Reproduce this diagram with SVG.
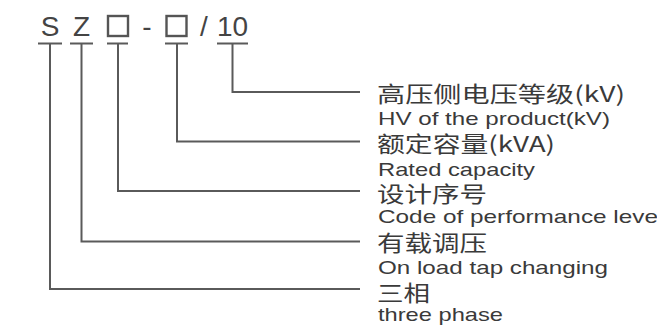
<svg xmlns="http://www.w3.org/2000/svg" width="657" height="329" viewBox="0 0 657 329">
<style>
.code{font-family:"Liberation Sans",Arial,sans-serif;font-size:28px;fill:#444;text-anchor:middle}
.box{fill:none;stroke:#555;stroke-width:2.4}
.cn{font-family:"Noto Sans CJK SC",sans-serif;font-size:21.5px;fill:#3a3a3a}
.en{font-family:"Liberation Sans",Arial,sans-serif;font-size:19px;fill:#3a3a3a}
.ln{stroke:#5a5a5a;stroke-width:2;fill:none}
</style>
<rect width="657" height="329" fill="#fff"/>
<g id="code">
<text class="code" x="50" y="36">S</text>
<text class="code" x="81.5" y="36">Z</text>
<rect class="box" x="108" y="16" width="20" height="20"/>
<text class="code" x="147" y="36">-</text>
<rect class="box" x="166.5" y="16" width="20" height="20"/>
<text class="code" x="204" y="36">/</text>
<text class="code" x="232.5" y="36">10</text>
</g>
<g id="connectors">
<path class="ln" d="M38 43.5H62M50 43.5V289H360"/>
<path class="ln" d="M70 43.5H93M81.5 43.5V241.5H360"/>
<path class="ln" d="M107 43.5H128M118 43.5V191H360"/>
<path class="ln" d="M165 43.5H188M177 43.5V141.5H360"/>
<path class="ln" d="M217 43.5H248M232.5 43.5V92H360"/>
</g>
<g id="voltage">
<text class="cn" x="377" y="101.5" textLength="248" lengthAdjust="spacingAndGlyphs">高压侧电压等级(kV)</text>
<text class="en" x="378" y="125" textLength="232" lengthAdjust="spacingAndGlyphs">HV of the product(kV)</text>
</g>
<g id="capacity">
<text class="cn" x="377" y="152" textLength="178" lengthAdjust="spacingAndGlyphs">额定容量(kVA)</text>
<text class="en" x="378" y="175.5" textLength="157" lengthAdjust="spacingAndGlyphs">Rated capacity</text>
</g>
<g id="design">
<text class="cn" x="377" y="202" textLength="110" lengthAdjust="spacingAndGlyphs">设计序号</text>
<text class="en" x="378" y="223" textLength="280" lengthAdjust="spacingAndGlyphs">Code of performance leve</text>
</g>
<g id="tap">
<text class="cn" x="377" y="250.5" textLength="110" lengthAdjust="spacingAndGlyphs">有载调压</text>
<text class="en" x="378" y="274" textLength="230" lengthAdjust="spacingAndGlyphs">On load tap changing</text>
</g>
<g id="phase">
<text class="cn" x="377" y="300.5" textLength="53" lengthAdjust="spacingAndGlyphs">三相</text>
<text class="en" x="378" y="320.5" textLength="125" lengthAdjust="spacingAndGlyphs">three phase</text>
</g>
</svg>
